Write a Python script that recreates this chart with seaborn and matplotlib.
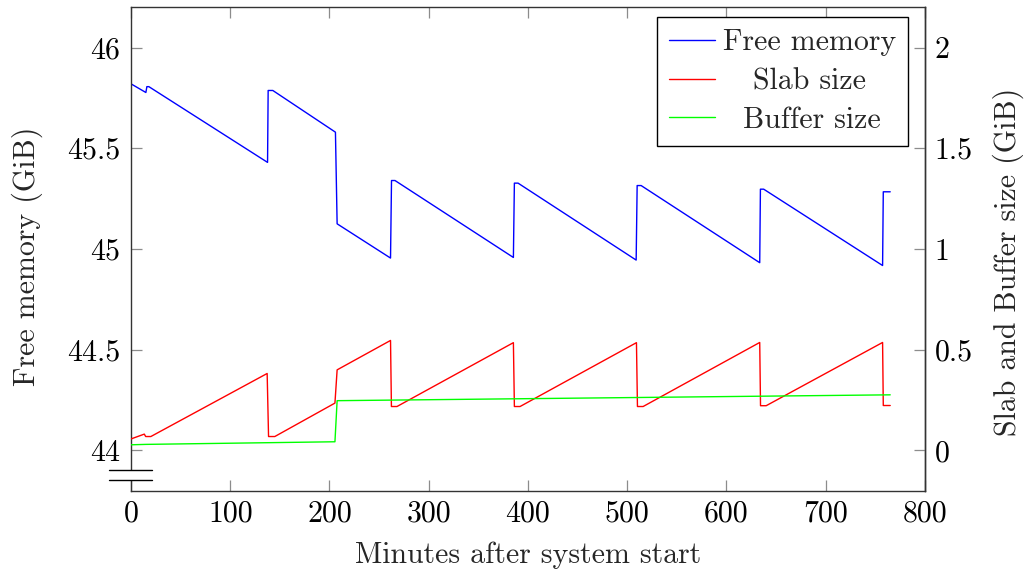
import matplotlib
matplotlib.use("Agg")
import matplotlib.pyplot as plt
import matplotlib.transforms as mtransforms
from matplotlib.lines import Line2D
from matplotlib.patches import Rectangle
from matplotlib.ticker import FuncFormatter
import seaborn as sns
import pandas as pd

# ---- data ----
free_x = [0, 15, 16, 18, 137.6, 138.2, 142.9, 206, 207.7, 261.5, 262.5, 266,
          385.3, 386.3, 390, 509, 510, 514, 633.5, 634.2, 637.5, 757.3, 758, 765]
free_y = [45.82, 45.777, 45.806, 45.806, 45.43, 45.787, 45.787, 45.58, 45.125,
          44.955, 45.34, 45.34, 44.958, 45.327, 45.327, 44.945, 45.315, 45.315,
          44.932, 45.297, 45.297, 44.918, 45.284, 45.284]

slab_x = [0, 13.4, 14.8, 20, 137.2, 138.6, 144.9, 205.5, 207.7, 261.5, 262.4, 268,
          385.3, 386.3, 392, 509.3, 510.3, 516, 633.5, 634.3, 640, 757.3, 758, 765]
slab_y = [0.057, 0.081, 0.069, 0.069, 0.382, 0.069, 0.069, 0.235, 0.40, 0.546,
          0.218, 0.218, 0.535, 0.218, 0.218, 0.535, 0.218, 0.218, 0.536, 0.222,
          0.222, 0.536, 0.223, 0.223]

buffer_x = [0, 15, 205.5, 207.7, 765]
buffer_y = [0.028, 0.030, 0.043, 0.247, 0.276]

x_ticks = [0, 100, 200, 300, 400, 500, 600, 700, 800]
left_ticks = [44, 44.5, 45, 45.5, 46]
right_ticks = [0, 0.5, 1, 1.5, 2]

series_labels = ["Free memory", "Slab size", "Buffer size"]

# ---- style ----
sns.set_style("white")
plt.rcParams["font.family"] = ["cmr10", "DejaVu Serif"]
plt.rcParams["axes.formatter.use_mathtext"] = True
plt.rcParams["mathtext.fontset"] = "cm"
FS = 21.5

fig = plt.figure(figsize=(10.29, 5.74), dpi=100)
ax = fig.add_axes([0.1273, 0.1451, 0.8989 - 0.1273, 0.9873 - 0.1451])
ax2 = ax.twinx()

df_free = pd.DataFrame({"x": free_x, "y": free_y})
df_slab = pd.DataFrame({"x": slab_x, "y": slab_y})
df_buf = pd.DataFrame({"x": buffer_x, "y": buffer_y})

LW = 1.0
sns.lineplot(data=df_free, x="x", y="y", ax=ax, color="#0000ff", lw=LW,
             sort=False, estimator=None, legend=False)
sns.lineplot(data=df_slab, x="x", y="y", ax=ax2, color="#ff0000", lw=LW,
             sort=False, estimator=None, legend=False)
sns.lineplot(data=df_buf, x="x", y="y", ax=ax2, color="#00ff00", lw=LW,
             sort=False, estimator=None, legend=False)

ax.set_xlim(0, 800)
ax.set_ylim(43.8, 46.2)
ax2.set_ylim(-0.2, 2.2)

fmt = FuncFormatter(lambda v, p: "%g" % v)
ax.set_xticks(x_ticks)
ax.set_yticks(left_ticks)
ax2.set_yticks(right_ticks)
ax.xaxis.set_major_formatter(fmt)
ax.yaxis.set_major_formatter(fmt)
ax2.yaxis.set_major_formatter(fmt)

tick_kw = dict(direction="in", length=8, width=0.9, color="#8c8c8c",
               labelsize=FS, labelcolor="black")
ax.tick_params(axis="x", bottom=True, top=True, pad=7, **tick_kw)
ax.tick_params(axis="y", left=True, right=False, pad=8, **tick_kw)
ax2.tick_params(axis="y", left=False, right=True, pad=7, **tick_kw)

for s in ax.spines.values():
    s.set_color("#333333")
    s.set_linewidth(1.0)
for name, s in ax2.spines.items():
    s.set_visible(name == "right")
    s.set_color("#333333")
    s.set_linewidth(1.0)

ax.set_xlabel("Minutes after system start", fontsize=FS, labelpad=10)
ax.set_ylabel("Free memory (GiB)", fontsize=FS, labelpad=17)
ax2.set_ylabel("Slab and Buffer size (GiB)", fontsize=FS, labelpad=14)
ax.yaxis.label.set_y(0.484)
ax2.yaxis.label.set_y(0.474)

# axis-break symbol on the left spine
blend = mtransforms.blended_transform_factory(ax.transAxes, ax.transData)
y_hi, y_lo = 43.904, 43.855
ax.add_patch(Rectangle((-0.01, y_lo), 0.02, y_hi - y_lo, transform=blend,
                       facecolor="white", edgecolor="none", clip_on=False, zorder=5))
for yy in (y_hi, y_lo):
    ax.add_line(Line2D([-0.0277, 0.0265], [yy, yy], transform=blend,
                       color="black", lw=1.0, clip_on=False, zorder=6))

# legend (labels centred like the reference)
handles = ax.get_lines()[:1] + ax2.get_lines()[:2]
shown = [series_labels[0], "   " + series_labels[1], "  " + series_labels[2]]
leg = ax2.legend(handles, shown, loc="upper right",
                 bbox_to_anchor=(0.9786, 0.980), borderaxespad=0,
                 fontsize=FS, frameon=True, fancybox=False, framealpha=1,
                 edgecolor="black", handlelength=1.55, handletextpad=0.25,
                 labelspacing=0.38, borderpad=0.4)
leg.get_frame().set_linewidth(1.0)

fig.savefig("out.png", dpi=100)
